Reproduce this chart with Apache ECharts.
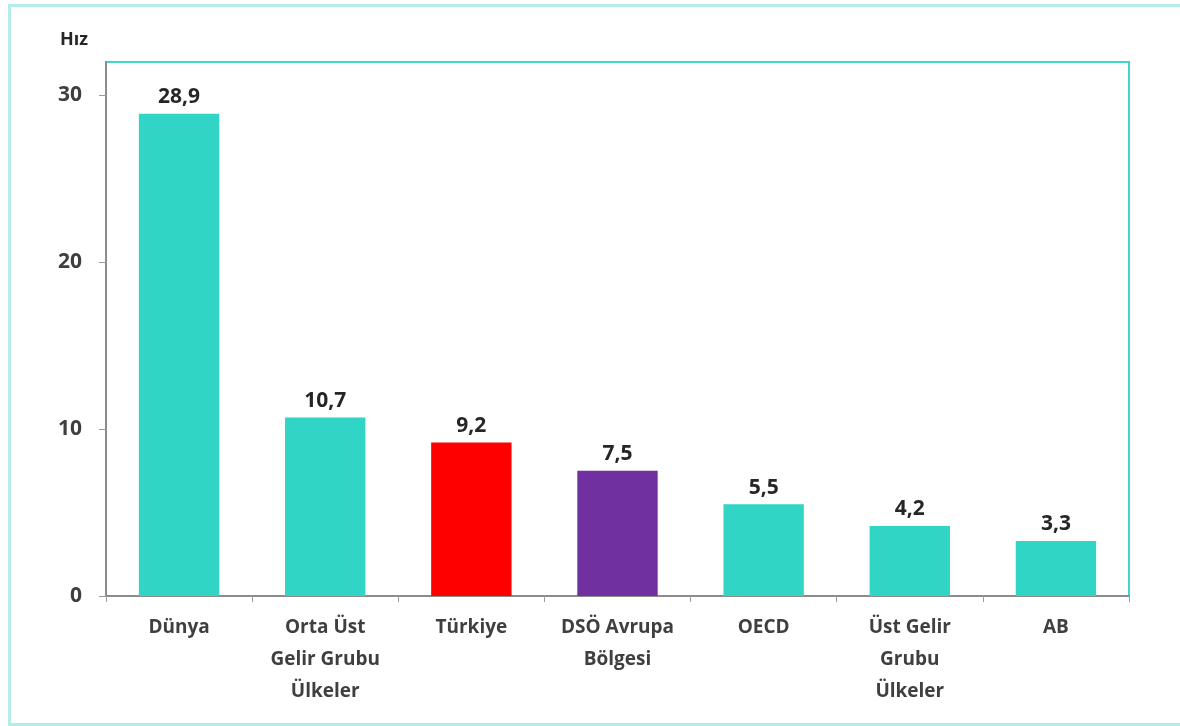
<!DOCTYPE html>
<html><head><meta charset="utf-8">
<script src="https://cdn.jsdelivr.net/npm/echarts@6/dist/echarts.min.js"></script>
<style>html,body{margin:0;padding:0;background:#fff}#c{width:1180px;height:726px}</style>
</head><body><div id="c"></div>
<script>
const categories = ['Dünya', 'Orta Üst\nGelir Grubu\nÜlkeler', 'Türkiye', 'DSÖ Avrupa\nBölgesi', 'OECD', 'Üst Gelir\nGrubu\nÜlkeler', 'AB'];
const values = [28.9, 10.7, 9.2, 7.5, 5.5, 4.2, 3.3];
const barColors = ['#31d5c6', '#31d5c6', '#ff0000', '#7030a0', '#31d5c6', '#31d5c6', '#31d5c6'];
const yTicks = [0, 10, 20, 30];
const yTitle = 'Hız';

const font = '"Open Sans", "Liberation Sans", sans-serif';
const chart = echarts.init(document.getElementById('c'), null, {renderer: 'canvas'});
chart.setOption({
  animation: false,
  backgroundColor: '#fff',
  graphic: [{
    type: 'rect', left: 7, top: 3,
    shape: {width: 1190, height: 719},
    style: {fill: 'none', stroke: '#b2eee7', lineWidth: 3}
  }],
  grid: {left: 106, right: 51, top: 62, bottom: 130, show: true, borderColor: '#3dd8c9', borderWidth: 2, backgroundColor: 'transparent'},
  xAxis: {
    type: 'category', data: categories,
    axisLine: {show: true, lineStyle: {color: '#8c8c8c', width: 2}},
    axisTick: {show: true, length: 6, lineStyle: {color: '#9a9a9a'}},
    axisLabel: {color: '#3f3f3f', fontFamily: font, fontWeight: 'bold', fontSize: 19, lineHeight: 32, margin: 16, interval: 0}
  },
  yAxis: {
    type: 'value', min: 0, max: 32, interval: 10,
    name: yTitle, nameLocation: 'end', nameGap: 13,
    nameTextStyle: {color: '#262626', fontFamily: font, fontWeight: 'bold', fontSize: 18, align: 'right', padding: [0, 18, 0, 0]},
    splitLine: {show: false},
    axisLine: {show: true, lineStyle: {color: '#8c8c8c', width: 2}},
    axisTick: {show: true, length: 7, lineStyle: {color: '#9a9a9a'}, customValues: yTicks},
    axisLabel: {color: '#3f3f3f', fontFamily: font, fontWeight: 'bold', fontSize: 21, margin: 24, customValues: yTicks}
  },
  series: [{
    type: 'bar', barWidth: '55%',
    data: values.map((v, i) => ({value: v, itemStyle: {color: barColors[i]}})),
    label: {show: true, position: 'top', distance: 6, color: '#262626', fontFamily: font, fontWeight: 'bold', fontSize: 21,
      formatter: p => String(p.value).replace('.', ',')}
  }]
});
</script></body></html>
